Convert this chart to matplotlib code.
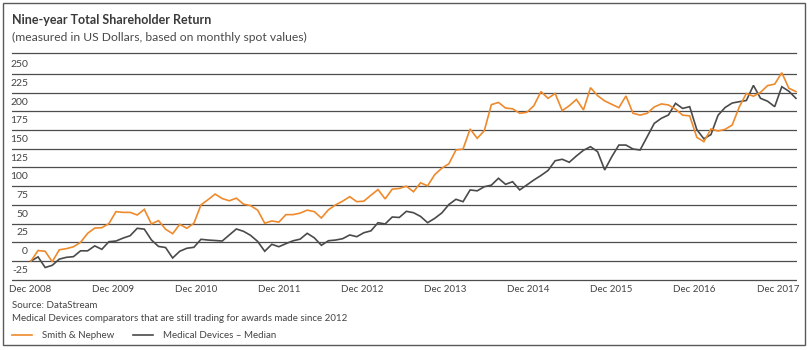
import numpy as np
import matplotlib
matplotlib.use("Agg")
import matplotlib.pyplot as plt
from matplotlib.lines import Line2D
from matplotlib.patches import Rectangle

plt.rcParams["font.family"] = ["Lato", "DejaVu Sans"]

# monthly TSR values, Dec 2008 .. Dec 2017 (index 0..108)
smith_nephew = [
    0, 14, 13, -1, 15, 16.5, 19, 25, 37, 44, 44.5, 50,
    66, 65, 65, 61.5, 69, 49.5, 54, 42.5, 36.5, 49, 43.7, 50.4,
    75, 82, 89.5, 83.5, 80.5, 84, 76, 74, 68, 50.5, 53.5, 52,
    62, 62, 64, 68, 66, 57.5, 68.5, 75, 80, 86, 79.3, 80,
    88, 95.5, 83, 96, 97, 100, 92.6, 104.5, 100.5, 115.5, 124, 130,
    148.4, 149.7, 176.5, 164, 174.2, 209, 212, 204.5, 203.5, 197.5, 198.8, 207.6,
    226.5, 217.5, 224, 201, 207.6, 216, 202, 231.7, 221, 214, 209.5, 205,
    220.6, 197.5, 195, 197.5, 206, 210, 208.6, 203, 195, 194, 165.4, 159.5,
    176.5, 173.8, 176, 181.8, 206, 224, 220.3, 225.5, 234.5, 236.5, 251.7, 231,
    226.5,
]
med_devices = [
    0, 5.5, -8.7, -5.8, 2.5, 4.9, 5.8, 13.6, 13.6, 20.2, 15.6, 25.8,
    26.7, 30.6, 33.8, 43.7, 42.6, 28.2, 19.5, 18, 4, 13, 17, 18.3,
    29, 28, 27.4, 26.7, 34.8, 42.8, 39.7, 34.3, 26.2, 13, 22.3, 19.1,
    23.2, 27, 29.2, 37, 31, 21, 27.1, 28, 29.8, 34.8, 32.5, 37.8,
    40.3, 51.2, 49.5, 58.8, 58.2, 66.4, 64.6, 59.6, 51.2, 57, 64.2, 75.5,
    82.5, 79.3, 95, 93.8, 99.3, 101.4, 110.6, 102.5, 106, 95, 101.6, 108.3,
    114.3, 121, 134, 136, 132, 140.4, 148, 152.8, 146.1, 121.7, 139.4, 155,
    155, 149.7, 148.4, 166.2, 184, 190.8, 195.2, 210.8, 204, 206.3, 175.7, 163.4,
    169, 194.8, 205.2, 211.2, 213, 214.6, 234.8, 217.5, 213.6, 206.3, 233, 227,
    217.5,
]
years = ["Dec 2008", "Dec 2009", "Dec 2010", "Dec 2011", "Dec 2012",
         "Dec 2013", "Dec 2014", "Dec 2015", "Dec 2016", "Dec 2017"]
y_ticks = [-25, 0, 25, 50, 75, 100, 125, 150, 175, 200, 225, 250]

ORANGE = "#ee8a2c"
GREY = "#4a4a4a"
TXT = "#444444"
W, H = 809, 350

def fx(px):
    return px / W

def fy(py):
    return 1 - py / H

months = np.arange(len(smith_nephew))

fig = plt.figure(figsize=(W / 100, H / 100), dpi=100)
ax = fig.add_axes([fx(12), fy(285), fx(797) - fx(12), fy(58) - fy(285)])
ax.set_xlim(-2.68, 108.15)
ax.set_ylim(-32.1, 271.4)
ax.axis("off")

for v in y_ticks:
    ax.axhline(v, color="#4d4d4d", lw=0.9, zorder=1)
    ax.text(0.0204, v + 12.5, str(v), transform=ax.get_yaxis_transform(),
            ha="right", va="center", fontsize=7.5, color=TXT)

l1, = ax.plot(months, smith_nephew, color=ORANGE, lw=1.2, zorder=3,
              solid_joinstyle="miter", label="Smith & Nephew")
l2, = ax.plot(months, med_devices, color=GREY, lw=1.2, zorder=2,
              solid_joinstyle="miter", label="Medical Devices \u2013 Median")

# year labels are spread evenly under the plot
step = 11.73
for i, lab in enumerate(years):
    ax.text(-0.14 + i * step, -0.022, lab, transform=ax.get_xaxis_transform(),
            ha="center", va="center", fontsize=7, color=TXT)

# frame, heading and separator
fig.add_artist(Rectangle((fx(3), fy(345)), fx(805) - fx(3), fy(3) - fy(345),
                         transform=fig.transFigure, fill=False,
                         edgecolor="#5a5a5a", lw=1))
fig.text(fx(12), fy(20), "Nine-year Total Shareholder Return", fontsize=9,
         fontweight="bold", color="#3a3a3a", va="center")
fig.text(fx(12), fy(37), "(measured in US Dollars, based on monthly spot values)",
         fontsize=8.7, color="#4a4a4a", va="center")
fig.add_artist(Line2D([fx(12), fx(796)], [fy(52.7), fy(52.7)],
                      transform=fig.transFigure, color="#4d4d4d", lw=0.9))

fig.text(fx(12.5), fy(305), "Source: DataStream", fontsize=7, color=TXT, va="center")
fig.text(fx(12.5), fy(318.5),
         "Medical Devices comparators that are still trading for awards made since 2012",
         fontsize=7, color=TXT, va="center")

fig.legend(handles=[l1, l2], loc="center left", bbox_to_anchor=(fx(12), fy(335.5)),
           ncol=2, frameon=False, fontsize=7, borderpad=0, borderaxespad=0,
           handlelength=2.1, handletextpad=1.0, columnspacing=1.9,
           labelcolor=TXT)

fig.savefig("out.png", dpi=100)
